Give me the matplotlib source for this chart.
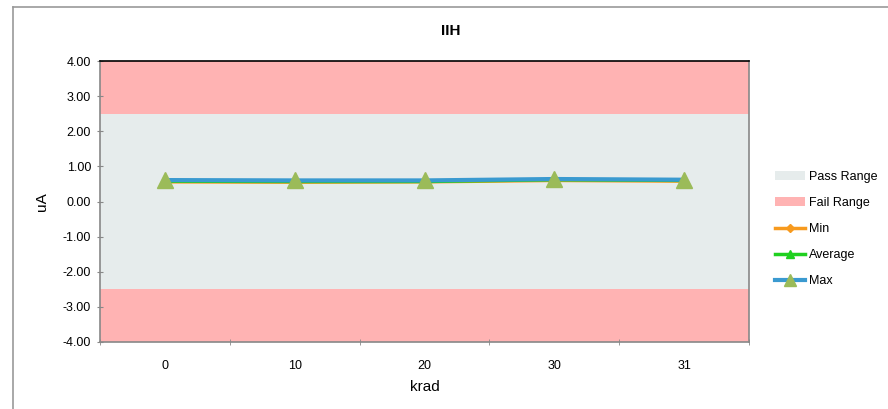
import matplotlib
matplotlib.use("Agg")
import matplotlib.pyplot as plt
from matplotlib.lines import Line2D
from matplotlib.patches import Patch

categories = ["0", "10", "20", "30", "31"]
min_vals = [0.56, 0.55, 0.56, 0.60, 0.58]
avg_vals = [0.58, 0.57, 0.57, 0.62, 0.60]
max_vals = [0.61, 0.60, 0.60, 0.64, 0.62]
pass_low, pass_high = -2.5, 2.5
fail_low, fail_high = -4.0, 4.0
yticks = [4, 3, 2, 1, 0, -1, -2, -3, -4]

plt.rcParams['font.family'] = ['Liberation Sans', 'DejaVu Sans']

fig = plt.figure(figsize=(8.88, 4.09), dpi=100)
ax = fig.add_axes([100/888, 1-342/409, 649/888, 281/409])

x = list(range(len(categories)))
xl = -0.5
xr = len(categories) - 0.5
ax.fill_between([xl, xr], [pass_high]*2, [fail_high]*2, color="#FFB3B3", lw=0, zorder=1)
ax.fill_between([xl, xr], [fail_low]*2, [pass_low]*2, color="#FFB3B3", lw=0, zorder=1)
ax.fill_between([xl, xr], [pass_low]*2, [pass_high]*2, color="#E6ECEC", lw=0, zorder=1)

ax.plot(x, min_vals, color="#F79A1E", lw=2.5, marker="D", ms=4, zorder=3)
ax.plot(x, avg_vals, color="#1FD01F", lw=2.5, marker="^", ms=7, zorder=4)
ax.plot(x, max_vals, color="#3A9AD0", lw=3, marker="^", ms=12,
        markerfacecolor="#9BBB59", markeredgecolor="#9BBB59", zorder=5)

ax.set_xlim(xl, xr)
ax.set_ylim(fail_low, fail_high)
ax.set_yticks(yticks)
ax.set_yticklabels([f"{v:.2f}" for v in yticks], fontsize=9)
ax.set_xticks(x)
ax.set_xticklabels(categories, fontsize=9)
ax.set_xticks([i - 0.5 for i in range(len(categories)+1)], minor=True)
ax.tick_params(axis="x", which="major", length=0, pad=13)
ax.tick_params(axis="x", which="minor", length=5, color="#888888", direction="inout")
ax.tick_params(axis="y", length=5, color="#888888", direction="inout", pad=4)

for s in ["left", "bottom", "right"]:
    ax.spines[s].set_color("#888888")
    ax.spines[s].set_linewidth(1.2)
ax.spines["top"].set_color("black")
ax.spines["top"].set_linewidth(1.2)

ax.set_xlabel("krad", fontsize=11, labelpad=6)
ax.set_ylabel("uA", fontsize=11, labelpad=10)
fig.text(451/888, 1-31/409, "IIH", fontsize=11, fontweight="bold", ha="center", va="center")

handles = [
    Patch(facecolor="#E6ECEC", edgecolor="none"),
    Patch(facecolor="#FFB3B3", edgecolor="none"),
    Line2D([0], [0], color="#F79A1E", lw=2.5, marker="D", ms=4),
    Line2D([0], [0], color="#1FD01F", lw=2.5, marker="^", ms=6),
    Line2D([0], [0], color="#3A9AD0", lw=3, marker="^", ms=8,
           markerfacecolor="#9BBB59", markeredgecolor="#9BBB59"),
]
labels = ["Pass Range", "Fail Range", "Min", "Average", "Max"]
fig.legend(handles, labels, loc="upper left", bbox_to_anchor=(775/888, 1-171/409),
           frameon=False, fontsize=9, handlelength=2.4, labelspacing=1.12,
           handletextpad=0.3, borderaxespad=0, borderpad=0)

# chart area border (partially cropped)
fig.add_artist(Line2D([13/888, 13/888], [0, 1-7/409], transform=fig.transFigure, color="#999999", lw=1.2))
fig.add_artist(Line2D([13/888, 1], [1-7/409, 1-7/409], transform=fig.transFigure, color="#999999", lw=1.2))

fig.savefig("out.png", dpi=100)
